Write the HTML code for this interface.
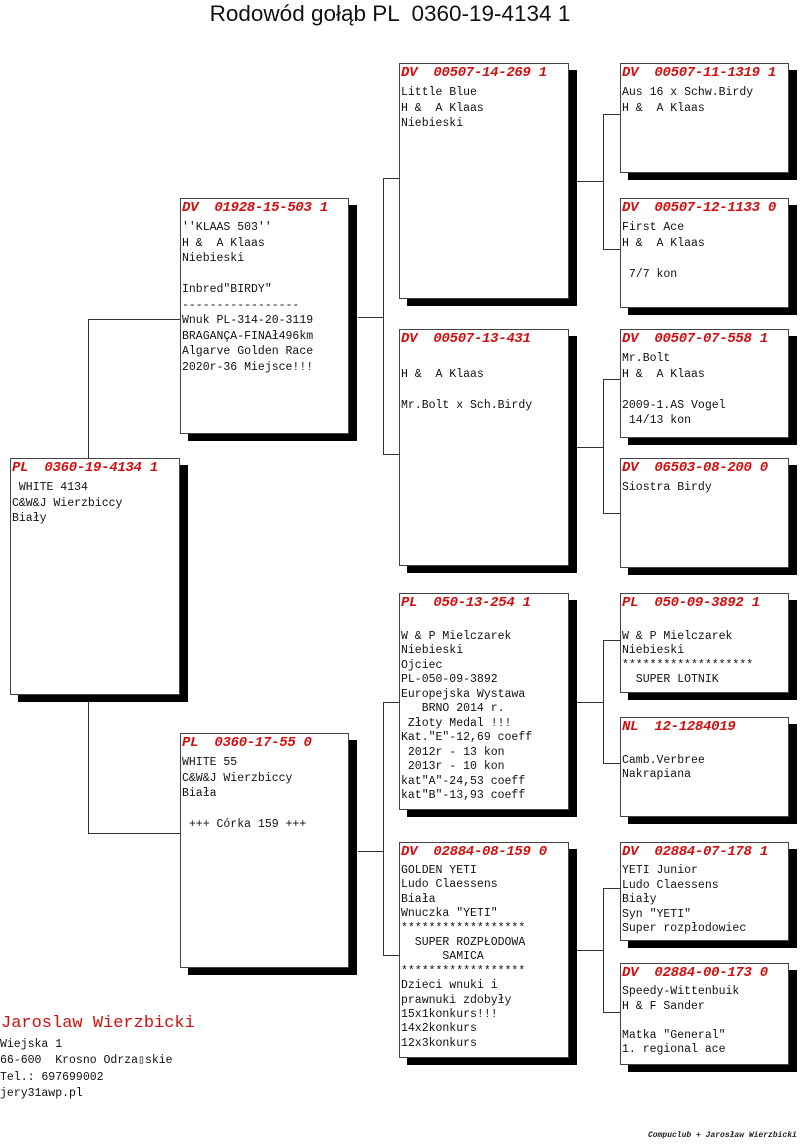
<!DOCTYPE html>
<html><head><meta charset="utf-8"><style>
body{margin:0;width:800px;height:1148px;background:#fff;position:relative;overflow:hidden;font-family:"Liberation Mono",monospace;}
.b{position:absolute;background:#fff;border:1px solid #444;box-sizing:border-box;box-shadow:8px 7px 0 #000;font-size:11.5px;line-height:15.5px;color:#111;white-space:pre;overflow:hidden;padding-left:1px}
.h{color:#d01010;font-weight:bold;font-style:italic;font-size:14px;line-height:17px;margin-top:1px;margin-bottom:3px;letter-spacing:-0.3px}
.t{position:absolute;white-space:pre}
</style></head><body>
<div class="t" style="left:0;width:780px;top:1px;text-align:center;font-family:'Liberation Sans',sans-serif;font-size:22.5px;color:#111">Rodowód gołąb PL  0360-19-4134 1</div>
<svg style="position:absolute;left:0;top:0" width="800" height="1148"><g stroke="#333" stroke-width="1" fill="none">
<path d="M88.5 458V319.5H180M88.5 702V833.5H180"/>
<path d="M358 317.5H383.5M383.5 178V454.5H400M383.5 178.5H400"/>
<path d="M358 851.5H383.5M383.5 702.5H400M383.5 702V955.5H400"/>
<path d="M577 181.5H603.5M603.5 114V249.5H620M603.5 114.5H620"/>
<path d="M577 447.5H603.5M603.5 379V513.5H620M603.5 379.5H620"/>
<path d="M577 702.5H603.5M603.5 640V763.5H620M603.5 640.5H620"/>
<path d="M577 950.5H603.5M603.5 888V1012.5H620M603.5 888.5H620"/>
</g></svg>

<div class="b" style="left:10px;top:458px;width:170px;height:237px"><div class="h">PL  0360-19-4134 1</div> WHITE 4134
C&amp;W&amp;J Wierzbiccy
Biały</div>

<div class="b" style="left:180px;top:198px;width:169px;height:236px"><div class="h">DV  01928-15-503 1</div>''KLAAS 503''
H &amp;  A Klaas
Niebieski

Inbred"BIRDY"
-----------------
Wnuk PL-314-20-3119
BRAGANÇA-FINAł496km
Algarve Golden Race
2020r-36 Miejsce!!!</div>

<div class="b" style="left:180px;top:733px;width:169px;height:235px"><div class="h">PL  0360-17-55 0</div>WHITE 55
C&amp;W&amp;J Wierzbiccy
Biała

 +++ Córka 159 +++</div>

<div class="b" style="left:399px;top:63px;width:170px;height:236px"><div class="h">DV  00507-14-269 1</div>Little Blue
H &amp;  A Klaas
Niebieski</div>

<div class="b" style="left:399px;top:329px;width:170px;height:237px"><div class="h">DV  00507-13-431</div>
H &amp;  A Klaas

Mr.Bolt x Sch.Birdy</div>

<div class="b" style="left:399px;top:593px;width:170px;height:217px;line-height:14.5px"><div class="h">PL  050-13-254 1</div>
W &amp; P Mielczarek
Niebieski
Ojciec
PL-050-09-3892
Europejska Wystawa
   BRNO 2014 r.
 Złoty Medal !!!
Kat."E"-12,69 coeff
 2012r - 13 kon
 2013r - 10 kon
kat"A"-24,53 coeff
kat"B"-13,93 coeff</div>

<div class="b" style="left:399px;top:842px;width:170px;height:216px;line-height:14.4px"><div class="h">DV  02884-08-159 0</div>GOLDEN YETI
Ludo Claessens
Biała
Wnuczka "YETI"
******************
  SUPER ROZPŁODOWA
      SAMICA
******************
Dzieci wnuki i
prawnuki zdobyły
15x1konkurs!!!
14x2konkurs
12x3konkurs</div>

<div class="b" style="left:620px;top:63px;width:169px;height:110px"><div class="h">DV  00507-11-1319 1</div>Aus 16 x Schw.Birdy
H &amp;  A Klaas</div>
<div class="b" style="left:620px;top:198px;width:169px;height:110px"><div class="h">DV  00507-12-1133 0</div>First Ace
H &amp;  A Klaas

 7/7 kon</div>
<div class="b" style="left:620px;top:329px;width:169px;height:109px"><div class="h">DV  00507-07-558 1</div>Mr.Bolt
H &amp;  A Klaas

2009-1.AS Vogel
 14/13 kon</div>
<div class="b" style="left:620px;top:458px;width:169px;height:110px"><div class="h">DV  06503-08-200 0</div>Siostra Birdy</div>
<div class="b" style="left:620px;top:593px;width:169px;height:100px;line-height:14.5px"><div class="h">PL  050-09-3892 1</div>
W &amp; P Mielczarek
Niebieski
*******************
  SUPER LOTNIK</div>
<div class="b" style="left:620px;top:717px;width:169px;height:100px;line-height:14.5px"><div class="h">NL  12-1284019</div>
Camb.Verbree
Nakrapiana</div>
<div class="b" style="left:620px;top:842px;width:169px;height:99px;line-height:14.5px"><div class="h">DV  02884-07-178 1</div>YETI Junior
Ludo Claessens
Biały
Syn "YETI"
Super rozpłodowiec</div>
<div class="b" style="left:620px;top:963px;width:169px;height:102px;line-height:14.5px"><div class="h">DV  02884-00-173 0</div>Speedy-Wittenbuik
H &amp; F Sander

Matka "General"
1. regional ace</div>

<div class="t" style="left:1px;top:1014px;font-size:17px;color:#d01010">Jaroslaw Wierzbicki</div>
<div class="t" style="left:0;top:1037px;font-size:11.5px;line-height:16.3px;color:#111">Wiejska 1
66-600  Krosno Odrza▯skie
Tel.: 697699002
jery31awp.pl</div>
<div class="t" style="left:648px;top:1131px;font-size:8px;font-style:italic;font-weight:bold;color:#222">Compuclub + Jarosław Wierzbicki</div>
</body></html>
